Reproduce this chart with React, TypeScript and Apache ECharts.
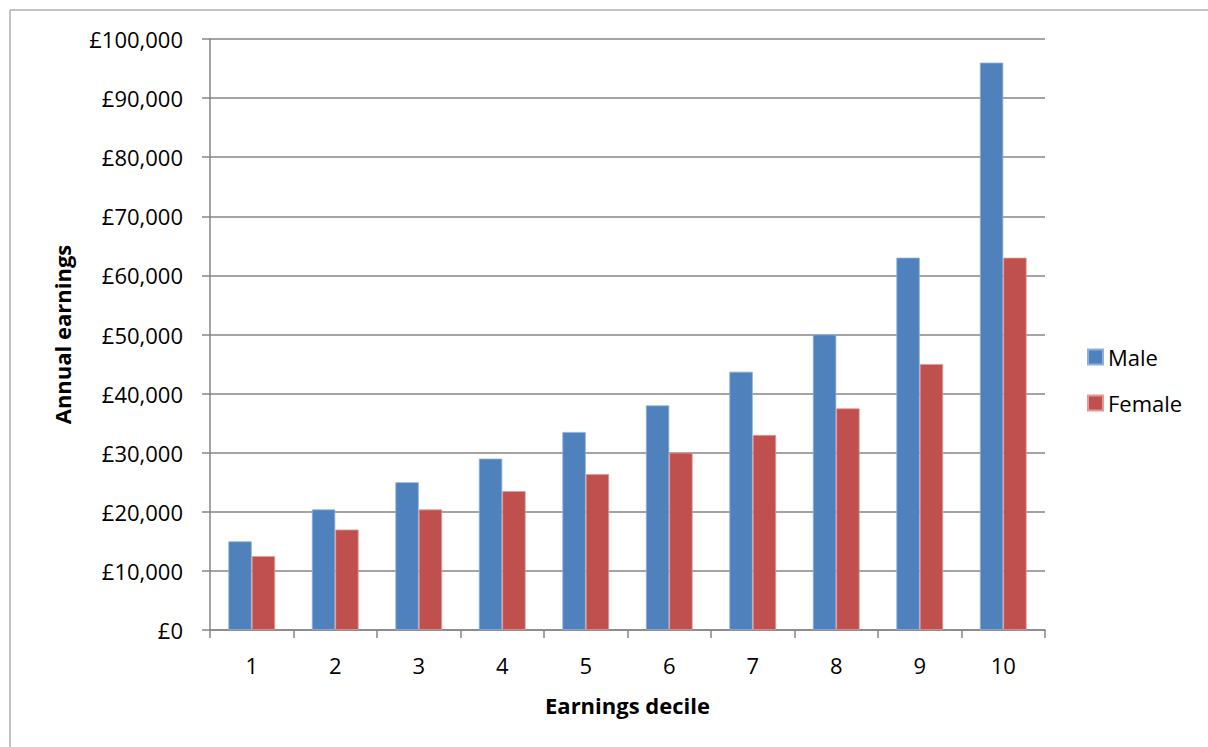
import React, { useEffect, useRef } from "react";
import * as echarts from "echarts";

// Annual earnings by earnings decile, split by sex
const deciles = ["1", "2", "3", "4", "5", "6", "7", "8", "9", "10"];
const maleEarnings = [15000, 20400, 25000, 29000, 33500, 38000, 43700, 50000, 63000, 96000];
const femaleEarnings = [12500, 17000, 20400, 23500, 26400, 30000, 33000, 37500, 45000, 63000];
const seriesNames = ["Male", "Female"];

const FONT = "'Open Sans', 'Liberation Sans', sans-serif";
const AXIS_GREY = "#868686";

const formatPounds = (v: number) => "£" + v.toLocaleString("en-GB");

export default function App() {
  const ref = useRef<HTMLDivElement>(null);

  useEffect(() => {
    if (!ref.current) return;
    const chart = echarts.init(ref.current, undefined, { renderer: "svg" });
    chart.setOption({
      animation: false,
      backgroundColor: "#ffffff",
      textStyle: { fontFamily: FONT, color: "#000000" },
      graphic: [
        {
          type: "rect",
          shape: { x: 10, y: 10, width: 1400, height: 900 },
          style: { fill: "none", stroke: AXIS_GREY, lineWidth: 1 },
          silent: true,
          z: -10,
        },
      ],
      grid: { left: 210, right: 163, top: 39, bottom: 117, containLabel: false },
      legend: {
        orient: "vertical",
        left: 1082,
        top: 341,
        itemWidth: 15,
        itemHeight: 15,
        itemGap: 24,
        icon: "rect",
        textStyle: { fontFamily: FONT, fontSize: 22, color: "#000000" },
        data: seriesNames,
      },
      xAxis: {
        type: "category",
        data: deciles,
        name: "Earnings decile",
        nameLocation: "middle",
        nameGap: 64,
        nameTextStyle: { fontFamily: FONT, fontSize: 22, fontWeight: "bold", color: "#000000" },
        axisLine: { show: true, lineStyle: { color: AXIS_GREY, width: 1.5 } },
        axisTick: { show: true, length: 8, lineStyle: { color: AXIS_GREY, width: 1.5 } },
        axisLabel: { fontFamily: FONT, fontSize: 22, color: "#000000", margin: 24 },
      },
      yAxis: {
        type: "value",
        min: 0,
        max: 100000,
        interval: 10000,
        name: "Annual earnings",
        nameLocation: "middle",
        nameRotate: 90,
        nameGap: 137,
        nameTextStyle: { fontFamily: FONT, fontSize: 22, fontWeight: "bold", color: "#000000" },
        axisLine: { show: true, lineStyle: { color: AXIS_GREY, width: 1.5 } },
        axisTick: { show: true, length: 8, lineStyle: { color: AXIS_GREY, width: 1.5 } },
        axisLabel: {
          fontFamily: FONT,
          fontSize: 22,
          color: "#000000",
          margin: 27,
          formatter: (v: number) => formatPounds(v),
        },
        splitLine: { show: true, lineStyle: { color: AXIS_GREY, width: 1.5 } },
      },
      series: [
        {
          name: seriesNames[0],
          type: "bar",
          data: maleEarnings,
          barGap: "0%",
          barCategoryGap: "44%",
          itemStyle: { color: "#4F81BD", borderColor: "#8FB0DC", borderWidth: 0.8 },
        },
        {
          name: seriesNames[1],
          type: "bar",
          data: femaleEarnings,
          barGap: "0%",
          barCategoryGap: "44%",
          itemStyle: { color: "#C0504D", borderColor: "#E39A98", borderWidth: 0.8 },
        },
      ],
    });
    return () => chart.dispose();
  }, []);

  return (
    <div
      ref={ref}
      style={{ position: "fixed", left: 0, top: 0, width: 1208, height: 747 }}
    />
  );
}
